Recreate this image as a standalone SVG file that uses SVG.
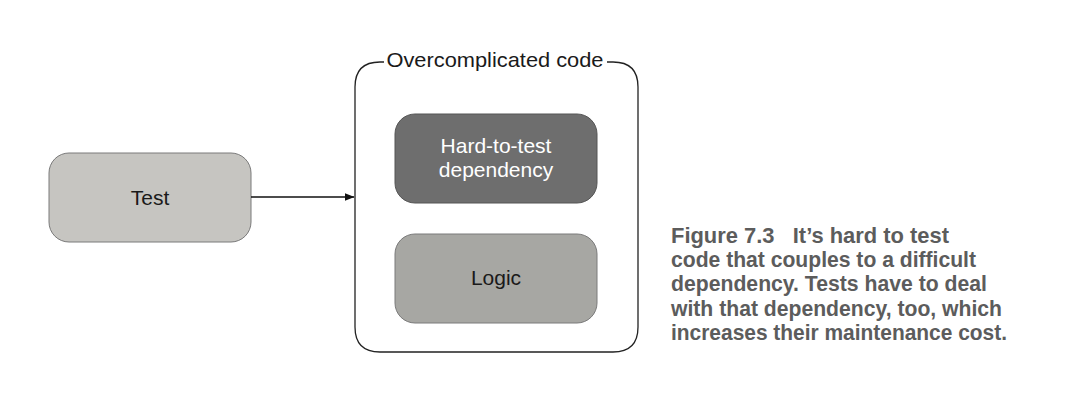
<svg xmlns="http://www.w3.org/2000/svg" width="1088" height="408" viewBox="0 0 1088 408">
<style>
.lbl{font-family:"Liberation Sans",Arial,sans-serif;font-size:21px;text-anchor:middle}
.dark{fill:#1a1a1a}
.light{fill:#ffffff}
.cap{font-family:"Liberation Sans",Arial,sans-serif;font-size:22px;font-weight:bold;fill:#5c5c5c}
.box{stroke-width:1}
</style>
<defs>
<marker id="arr" markerWidth="10" markerHeight="8" refX="9.5" refY="4" orient="auto" markerUnits="userSpaceOnUse">
<path d="M0,0 L10,4 L0,8 Z" fill="#111"/>
</marker>
</defs>
<rect width="1088" height="408" fill="#ffffff"/>
<g id="container">
<path d="M384,62 L380,62 Q355,62 355,87 L355,327 Q355,352 380,352 L613,352 Q638,352 638,327 L638,87 Q638,62 613,62 L607,62" fill="none" stroke="#222" stroke-width="1.3"/>
<text class="lbl dark" x="495" y="67" textLength="217" lengthAdjust="spacingAndGlyphs">Overcomplicated code</text>
</g>
<g id="test">
<rect class="box" x="49" y="153" width="202" height="89" rx="20" fill="#c6c5c1" stroke="#7a7a7a"/>
<text class="lbl dark" x="150" y="205">Test</text>
</g>
<g id="dependency">
<rect class="box" x="395" y="114" width="202" height="89" rx="20" fill="#6e6e6e" stroke="#555"/>
<text class="lbl light" x="496" y="153">Hard-to-test</text>
<text class="lbl light" x="496" y="177">dependency</text>
</g>
<g id="logic">
<rect class="box" x="395" y="234" width="202" height="89" rx="20" fill="#a7a7a3" stroke="#7a7a7a"/>
<text class="lbl dark" x="496" y="285">Logic</text>
</g>
<g id="connectors">
<line x1="251" y1="197" x2="354" y2="197" stroke="#111" stroke-width="1.3" marker-end="url(#arr)"/>
</g>
<g id="caption">
<text class="cap" x="671" y="243" textLength="278" lengthAdjust="spacingAndGlyphs" xml:space="preserve">Figure 7.3   It’s hard to test</text>
<text class="cap" x="671" y="267" textLength="305" lengthAdjust="spacingAndGlyphs">code that couples to a difficult</text>
<text class="cap" x="671" y="291" textLength="316" lengthAdjust="spacingAndGlyphs">dependency. Tests have to deal</text>
<text class="cap" x="671" y="316" textLength="331" lengthAdjust="spacingAndGlyphs">with that dependency, too, which</text>
<text class="cap" x="671" y="340" textLength="336" lengthAdjust="spacingAndGlyphs">increases their maintenance cost.</text>
</g>
</svg>
